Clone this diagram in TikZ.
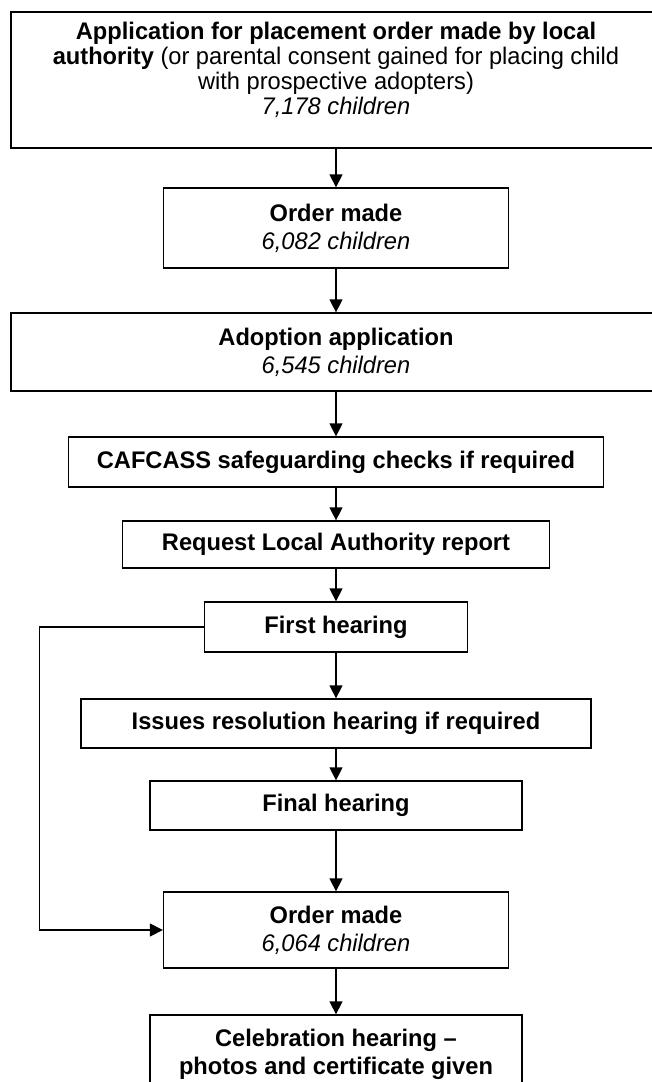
\documentclass[tikz,border=0pt]{standalone}
\usepackage{fontspec}
\setmainfont{Liberation Sans}[FakeStretch=0.985]
\usetikzlibrary{arrows.meta}
\begin{document}
\begin{tikzpicture}[x=1pt,y=-1pt,
  box/.style={draw,line width=1.3pt,inner sep=0pt,align=center,font=\fontsize{24}{28}\selectfont},
  txt/.style={inner sep=0pt,align=center,font=\fontsize{24}{25}\selectfont},
  arr/.style={line width=1.3pt,-{Triangle[length=13pt,width=13pt]}}]
\useasboundingbox (0,0) rectangle (651,1082);
\node[box, minimum width=650pt, minimum height=136pt] (n1) at (336,80) {};
\node[txt] (t1) at (336,69.5) {\textbf{Application for placement order made by local}\\
\textbf{authority} (or parental consent gained for placing child\\
with prospective adopters)\\
\textit{7,178 children}};
\node[box, minimum width=345pt, minimum height=80pt] (n2) at (336,228) {\textbf{Order made}\\ \textit{6,082 children}};
\node[box, minimum width=650pt, minimum height=78pt] (n3) at (336,352) {\textbf{Adoption application}\\ \textit{6,545 children}};
\node[box, minimum width=535.5pt, minimum height=50pt] (n4) at (336,462) {\textbf{CAFCASS safeguarding checks if required}};
\node[box, minimum width=427pt, minimum height=47pt] (n5) at (336,544.5) {\textbf{Request Local Authority report}};
\node[box, minimum width=263pt, minimum height=50pt] (n6) at (336,627) {\textbf{First hearing}};
\node[box, minimum width=510pt, minimum height=49pt] (n7) at (336,723.5) {\textbf{Issues resolution hearing if required}};
\node[box, minimum width=372pt, minimum height=49pt] (n8) at (336,805.5) {\textbf{Final hearing}};
\node[box, minimum width=345pt, minimum height=76pt] (n9) at (336,930) {\textbf{Order made}\\ \textit{6,064 children}};
\node[box, minimum width=372pt, minimum height=78pt] (n10) at (336,1054) {\textbf{Celebration hearing --}\\ \textbf{photos and certificate given}};
\draw[arr] (n1) -- (n2);
\draw[arr] (n2) -- (n3);
\draw[arr] (n3) -- (n4);
\draw[arr] (n4) -- (n5);
\draw[arr] (n5) -- (n6);
\draw[arr] (n6) -- (n7);
\draw[arr] (n7) -- (n8);
\draw[arr] (n8) -- (n9);
\draw[arr] (n9) -- (n10);
\coordinate (fb) at (39.5,627);
\draw[arr] (n6.west) -- (fb) |- (n9.west);
\end{tikzpicture}
\end{document}
